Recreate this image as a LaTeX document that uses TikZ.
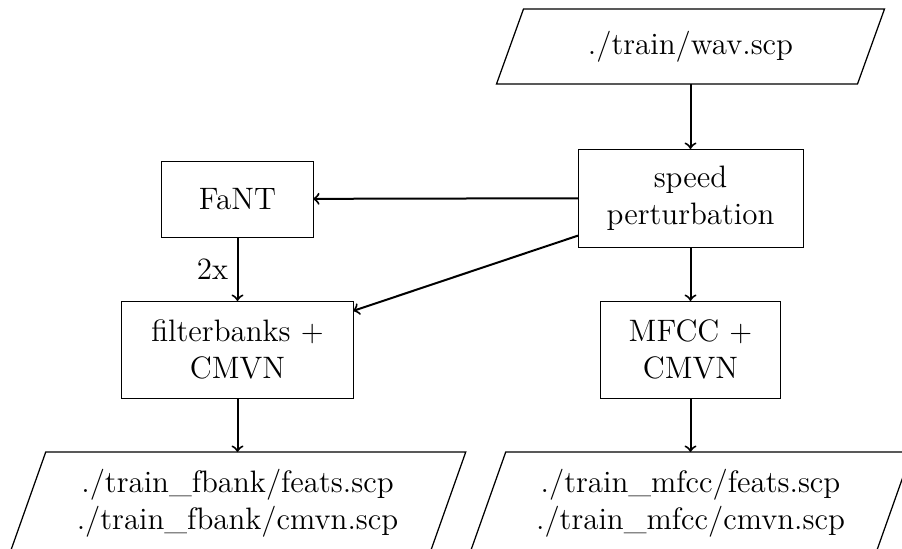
\documentclass[tikz,border=0pt]{standalone}
\usetikzlibrary{calc}

\tikzset{
  box/.style={draw, rectangle, align=center, inner sep=2pt, outer sep=0pt},
  io/.style={rectangle, align=center, inner sep=2pt, outer sep=0pt},
  flow/.style={->, thick},
  slantframe/.style={draw, line width=0.5pt}
}

% outline of a data (parallelogram) node: #1 = node name, #2 = horizontal shift
\newcommand{\ioframe}[2]{%
  \draw[slantframe] ($(#1.north west)+(#2,0)$) -- ($(#1.north east)+(#2,0)$)
    -- ($(#1.south east)-(#2,0)$) -- ($(#1.south west)-(#2,0)$) -- cycle;}

\begin{document}
\begin{tikzpicture}[x=0.4pt, y=-0.4pt, font=\fontsize{12.4}{14.8}\selectfont]
  \clip (0,0) rectangle (902,548);

  % input list
  \node[io, minimum width=144.4pt, minimum height=30pt] (wav) at (690.5,46.5) {./train/wav.scp};
  \ioframe{wav}{5.4pt}

  % processing steps
  \node[box, minimum width=90pt, minimum height=39.2pt] (speed) at (690.5,198) {speed\\perturbation};
  \node[box, minimum width=60.4pt, minimum height=30.4pt] (fant) at (237.5,199) {FaNT};
  \node[box, minimum width=92.4pt, minimum height=38.8pt] (fbank) at (237.5,349.5) {filterbanks $+$\\CMVN};
  \node[box, minimum width=72pt, minimum height=38.8pt] (mfcc) at (690.5,349.5) {MFCC $+$\\CMVN};

  % output lists
  \node[io, minimum width=168pt, minimum height=41.2pt] (fbankout) at (237.5,503.5)
    {./train\_fbank/feats.scp\\./train\_fbank/cmvn.scp};
  \ioframe{fbankout}{7.3pt}
  \node[io, minimum width=162.4pt, minimum height=41.2pt] (mfccout) at (690.5,503.5)
    {./train\_mfcc/feats.scp\\./train\_mfcc/cmvn.scp};
  \ioframe{mfccout}{7.3pt}

  % data flow
  \draw[flow] (wav) -- (speed);
  \draw[flow] (speed) -- (fant);
  \draw[flow] (speed) -- (fbank);
  \draw[flow] (fant) -- node[midway, left] {2x} (fbank);
  \draw[flow] (speed) -- (mfcc);
  \draw[flow] (fbank) -- (fbankout);
  \draw[flow] (mfcc) -- (mfccout);
\end{tikzpicture}
\end{document}
